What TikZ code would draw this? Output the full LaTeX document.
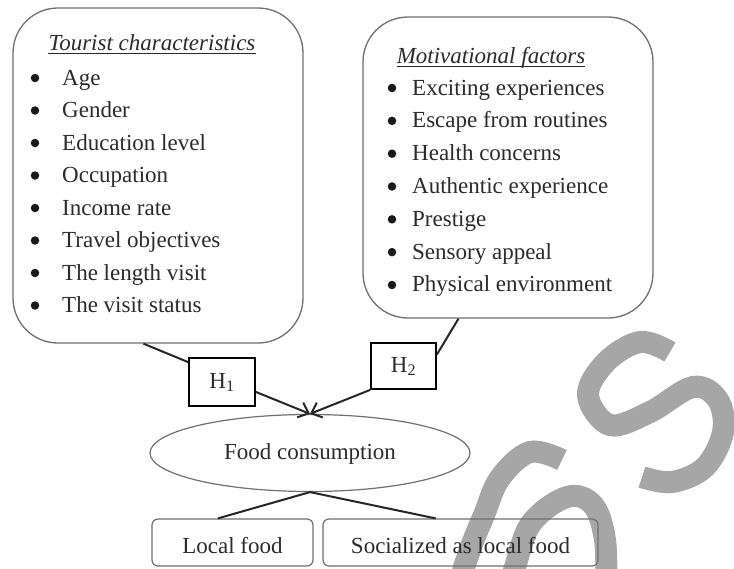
\documentclass[tikz,border=0pt]{standalone}
\usepackage{fontspec}
\setmainfont{Liberation Serif}
\usetikzlibrary{shapes.geometric,arrows.meta,calc}
\definecolor{txt}{HTML}{2B2B2B}
\definecolor{bord}{HTML}{707070}
\definecolor{wm}{HTML}{A6A6A6}
\begin{document}
\begin{tikzpicture}[x=1pt,y=-1pt,
  every node/.style={font=\fontsize{23}{27}\selectfont, text=txt},
  bigbox/.style={draw=bord, line width=1.3pt, rounded corners=45pt, inner sep=0pt},
  smallbox/.style={draw=bord, line width=1.2pt, rounded corners=6pt, inner sep=0pt,
    minimum height=47pt, text height=22pt, text depth=1pt},
  hbox/.style={draw=black, line width=1.8pt, inner sep=0pt, text height=16pt, text depth=4pt},
  bul/.style={circle, fill=black!90, inner sep=0pt, minimum size=8.5pt},
  item/.style={anchor=base west, inner sep=0pt},
  conn/.style={draw=black!85, line width=2pt},
  arr/.style={conn, -{Straight Barb[length=9pt,width=16pt,line width=2pt]}},
  wmark/.style={draw=wm, line width=22pt, line cap=butt}
]
\useasboundingbox (0,0) rectangle (734,568);
\fill[white] (0,0) rectangle (734,568);

% watermark strokes
\draw[wmark] plot[smooth, tension=0.6] coordinates {(670,352) (640,342) (606,362) (588,395) (610,425) (650,412) (693,387) (718,400) (723,432) (705,467) (672,482) (642,477)};
\draw[wmark] plot[smooth, tension=0.6] coordinates {(562,460) (530,452) (500,478) (484,515) (470,550) (463,582) (486,606) (510,580) (530,525) (567,497) (593,505) (605,540) (606,592)};

% big boxes
\node[bigbox, minimum width=290pt, minimum height=335pt] (lbox) at (158,175.5) {};
\node[bigbox, minimum width=290pt, minimum height=301pt] (rbox) at (508,167.5) {};

% titles
\node[anchor=base, inner sep=0pt] (ltitle) at (152,50) {\itshape Tourist characteristics};
\draw[txt, line width=1pt] ([yshift=-3pt]ltitle.base west) -- ([yshift=-3pt]ltitle.base east);
\node[anchor=base, inner sep=0pt] (rtitle) at (491,63) {\itshape Motivational factors};
\draw[txt, line width=1pt] ([yshift=-3pt]rtitle.base west) -- ([yshift=-3pt]rtitle.base east);

% left list
\foreach \t [count=\i] in {Age, Gender, Education level, Occupation, Income rate, Travel objectives, The length visit, The visit status}{
  \node[bul] (lb\i) at (35,{78+32.5*(\i-1)}) {};
  \node[item] (lt\i) at (62,{85+32.5*(\i-1)}) {\t};
}
% right list
\foreach \t [count=\i] in {Exciting experiences, Escape from routines, Health concerns, Authentic experience, Prestige, Sensory appeal, Physical environment}{
  \node[bul] (rb\i) at (392,{88+32.83*(\i-1)}) {};
  \node[item] (rt\i) at (412,{95+32.83*(\i-1)}) {\t};
}

% hypothesis boxes
\node[hbox, minimum width=66pt, minimum height=48pt] (h1) at (222,382) {H\textsubscript{1}};
\node[hbox, minimum width=65pt, minimum height=46pt] (h2) at (403.5,366) {H\textsubscript{2}};

% food consumption
\node[ellipse, draw=bord, line width=1.2pt, minimum width=320pt, minimum height=77pt,
  inner sep=0pt, text height=16pt, text depth=4pt] (food) at (310,453) {Food consumption};

% bottom boxes
\node[smallbox, minimum width=161pt] (local) at (232.5,542.5) {Local food};
\node[smallbox, minimum width=275pt] (social) at (460.5,542.5) {Socialized as local food};

% connectors
\draw[conn] ($(lbox.south west)!0.45!(lbox.south east)$) -- ($(h1.north west)!0.1!(h1.south west)$);
\draw[conn] ($(rbox.south west)!0.33!(rbox.south east)$) -- ($(h2.north east)!0.26!(h2.south east)$);
\draw[arr] ($(h1.north east)!0.7!(h1.south east)$) -- (food.north);
\draw[arr] (h2.south west) -- (food.north);
\draw[conn] (food.south) -- ($(local.north west)!0.41!(local.north east)$);
\draw[conn] (food.south) -- ($(social.north west)!0.41!(social.north east)$);
\end{tikzpicture}
\end{document}
